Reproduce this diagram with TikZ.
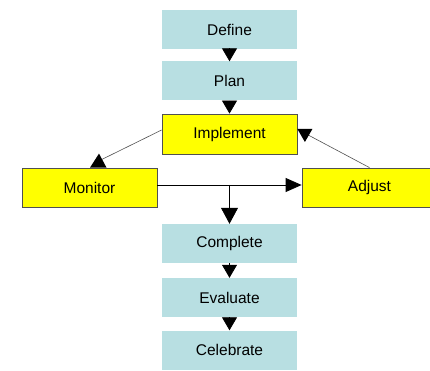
\documentclass[tikz,border=0pt]{standalone}
\usepackage{fontspec}
\setmainfont{Liberation Sans}
\usetikzlibrary{arrows.meta,calc}
\definecolor{stepblue}{RGB}{184,223,226}
\definecolor{stepyellow}{RGB}{255,255,0}
\definecolor{edgegray}{RGB}{80,80,80}
\begin{document}
\begin{tikzpicture}[x=1pt,y=-1pt,
  font=\fontsize{15.5}{18}\selectfont,
  bluebox/.style={fill=stepblue,draw=none,minimum width=135pt,minimum height=39pt,inner sep=0pt},
  yellowbox/.style={fill=stepyellow,draw=edgegray,line width=0.8pt,minimum width=135pt,minimum height=39pt,inner sep=0pt},
  flow/.style={black,line width=0.8pt,-{Triangle[width=15pt,length=13pt]}},
  slant/.style={edgegray,line width=0.6pt},
  headfill/.style={fill=black,draw=none}]
\useasboundingbox (0,0) rectangle (430,371);
% main column
\node[bluebox] (define) at (229.5,29.5) {Define};
\node[bluebox] (plan) at (229.5,81) {Plan};
\node[yellowbox,minimum height=40pt] (implement) at (229.5,134) {Implement};
\node[yellowbox] (monitor) at (89.5,187.5) {Monitor};
\node[yellowbox] (adjust) at (369.5,187.5) {Adjust};
\node[bluebox] (complete) at (229.5,243.5) {Complete};
\node[bluebox] (evaluate) at (229.5,297.5) {Evaluate};
\node[bluebox] (celebrate) at (229.5,350) {Celebrate};
% straight flow arrows
\draw[flow] (define.south) -- (plan.north);
\draw[flow] (plan.south) -- (implement.north);
\draw[flow] (complete.south) -- (evaluate.north);
\draw[flow] (evaluate.south) -- (celebrate.north);
% monitor to adjust, with branch down to complete
\coordinate (mr) at ([yshift=2.5pt]monitor.east);
\coordinate (al) at ([yshift=2.5pt]adjust.west);
\draw[flow,-{Triangle[width=14pt,length=16pt]}] (mr) -- (al);
\coordinate (branch) at (complete.north |- mr);
\draw[flow,-{Triangle[width=17pt,length=16pt]}] (branch) -- (complete.north);
% implement to monitor
\coordinate (il) at ([yshift=4pt]implement.west);
\coordinate (mt) at ([xshift=9pt]monitor.north);
\draw[slant] (il) -- ($(mt)+(1,-7)$);
\fill[headfill] ($(mt)+(-8.5,0)$) -- ($(mt)+(0.5,-14)$) -- ($(mt)+(8,0)$) -- cycle;
% adjust back to implement
\coordinate (ir) at ([yshift=5pt]implement.east);
\draw[slant] (adjust.north) -- ($(ir)+(7,4)$);
\fill[headfill] (ir) -- ($(ir)+(15,0)$) -- ($(ir)+(7.5,13)$) -- cycle;
\end{tikzpicture}
\end{document}
